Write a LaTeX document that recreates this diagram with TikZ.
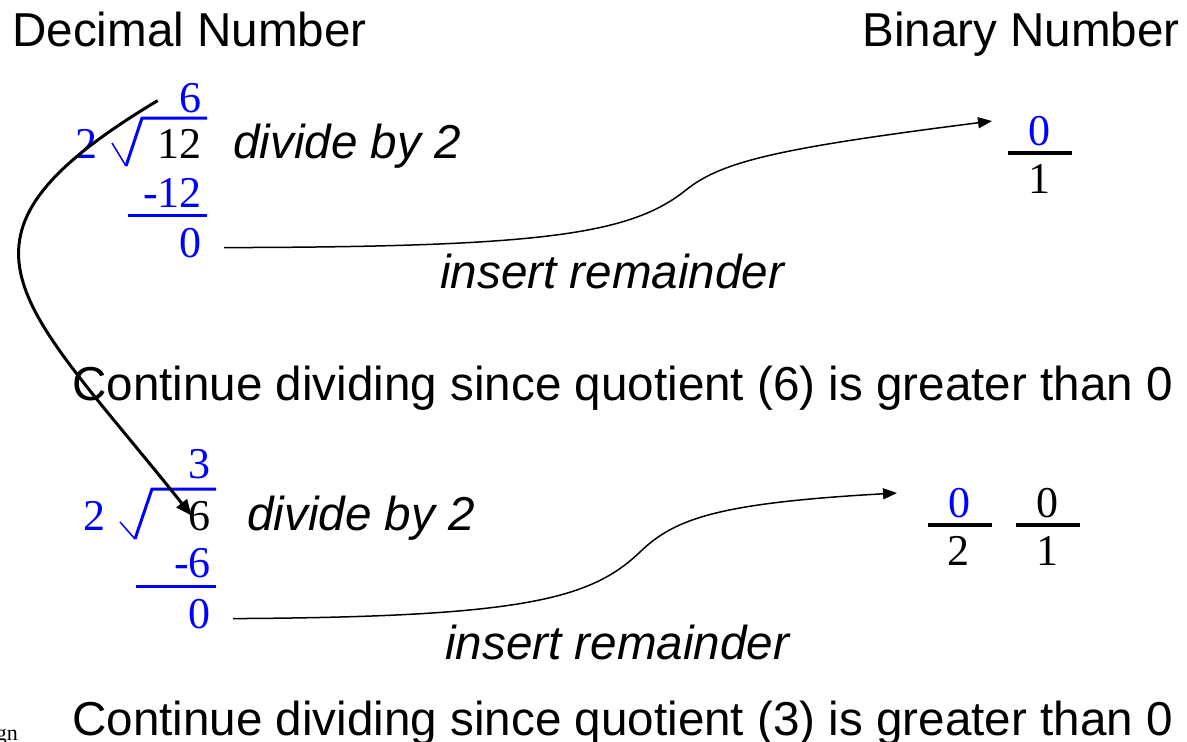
\documentclass[tikz,border=0pt]{standalone}
\usepackage{fontspec}
\setmainfont{Liberation Serif}
\setsansfont{Liberation Sans}
\usetikzlibrary{arrows.meta}
\definecolor{digitblue}{RGB}{0,0,255}

\begin{document}
\begin{tikzpicture}[
  x=1pt,y=-1pt,
  >={Triangle[length=14pt,width=11pt]},
  digit/.style={font=\fontsize{44}{44}\selectfont,inner sep=0pt,anchor=base east},
  bdigit/.style={digit,anchor=base},
  head/.style={font=\sffamily\fontsize{47.6}{50}\selectfont,inner sep=0pt},
  note/.style={font=\sffamily\itshape\fontsize{47.6}{50}\selectfont,inner sep=0pt,anchor=base west},
  divline/.style={digitblue,line width=3pt},
  fracbar/.style={line width=4pt},
  flow/.style={->,line width=1.5pt}
]
  \useasboundingbox (0,0) rectangle (1187,742);

  \node[head,anchor=base west] (dec) at (12,46) {Decimal Number};
  \node[head,anchor=base east] (bin) at (1180,46) {Binary Number};

  % first division
  \node[digit,digitblue] (q1) at (202,112) {6};
  \node[digit,digitblue] (d1) at (98,158) {2};
  \node[digit] (n1) at (202,158) {12};
  \node[digit,digitblue] (s1) at (202,207) {-12};
  \node[digit,digitblue] (r1) at (202,257) {0};
  \draw[digitblue,line width=1.5pt] (112,143) -- (126,166);
  \draw[divline] (126,166) -- (142,118) -- (207,118);
  \draw[divline] (128,215) -- (207,215);
  \node[note] (div1) at (233,158) {divide by 2};
  \node[note] (ins1) at (440,288) {insert remainder};

  \node[head,anchor=base west] (cont1) at (72,400) {Continue dividing since quotient (6) is greater than 0};

  % second division
  \node[digit,digitblue] (q2) at (211,478) {3};
  \node[digit,digitblue] (d2) at (106,530) {2};
  \node[digit] (n2) at (211,530) {6};
  \node[digit,digitblue] (s2) at (211,577) {-6};
  \node[digit,digitblue] (r2) at (211,628) {0};
  \draw[digitblue,line width=1.5pt] (120,522) -- (135,539);
  \draw[divline] (135,539) -- (152,489) -- (216,489);
  \draw[divline] (136,586) -- (216,586);
  \node[note] (div2) at (247,530) {divide by 2};
  \node[note] (ins2) at (445,659) {insert remainder};

  \node[head,anchor=base west] (cont2) at (72,735) {Continue dividing since quotient (3) is greater than 0};
  \node[font=\fontsize{22}{22}\selectfont,inner sep=0pt,anchor=base east] (foot) at (18,740) {gn};

  % binary digits
  \node[bdigit,digitblue] (b1a) at (1039,145) {0};
  \node[bdigit] (b1b) at (1039,193) {1};
  \draw[fracbar] (1008,153) -- (1072,153);

  \node[bdigit,digitblue] (b2a) at (959,517) {0};
  \node[bdigit] (b2b) at (958,565) {2};
  \draw[fracbar] (928,525) -- (992,525);
  \node[bdigit] (b3a) at (1047,517) {0};
  \node[bdigit] (b3b) at (1047,565) {1};
  \draw[fracbar] (1016,525) -- (1080,525);

  % connectors
  \coordinate (t1) at (992,121);
  \coordinate (t2) at (897,493);
  \draw[flow] ([xshift=22pt,yshift=-5pt]r1.east) .. controls (540,247) and (630,235) .. (686,190)
    .. controls (722,161) and (780,148) .. (t1);
  \draw[flow] ([xshift=22pt,yshift=-5pt]r2.east) .. controls (520,617) and (590,600) .. (640,552)
    .. controls (675,518) and (720,503) .. (t2);
  \draw[->,line width=3pt,>={Triangle[length=16pt,width=13pt]}]
    ([xshift=-22pt,yshift=-3pt]q1.west) .. controls (-75,240) and (20,300) .. ([xshift=3pt]n2.west);
\end{tikzpicture}
\end{document}
